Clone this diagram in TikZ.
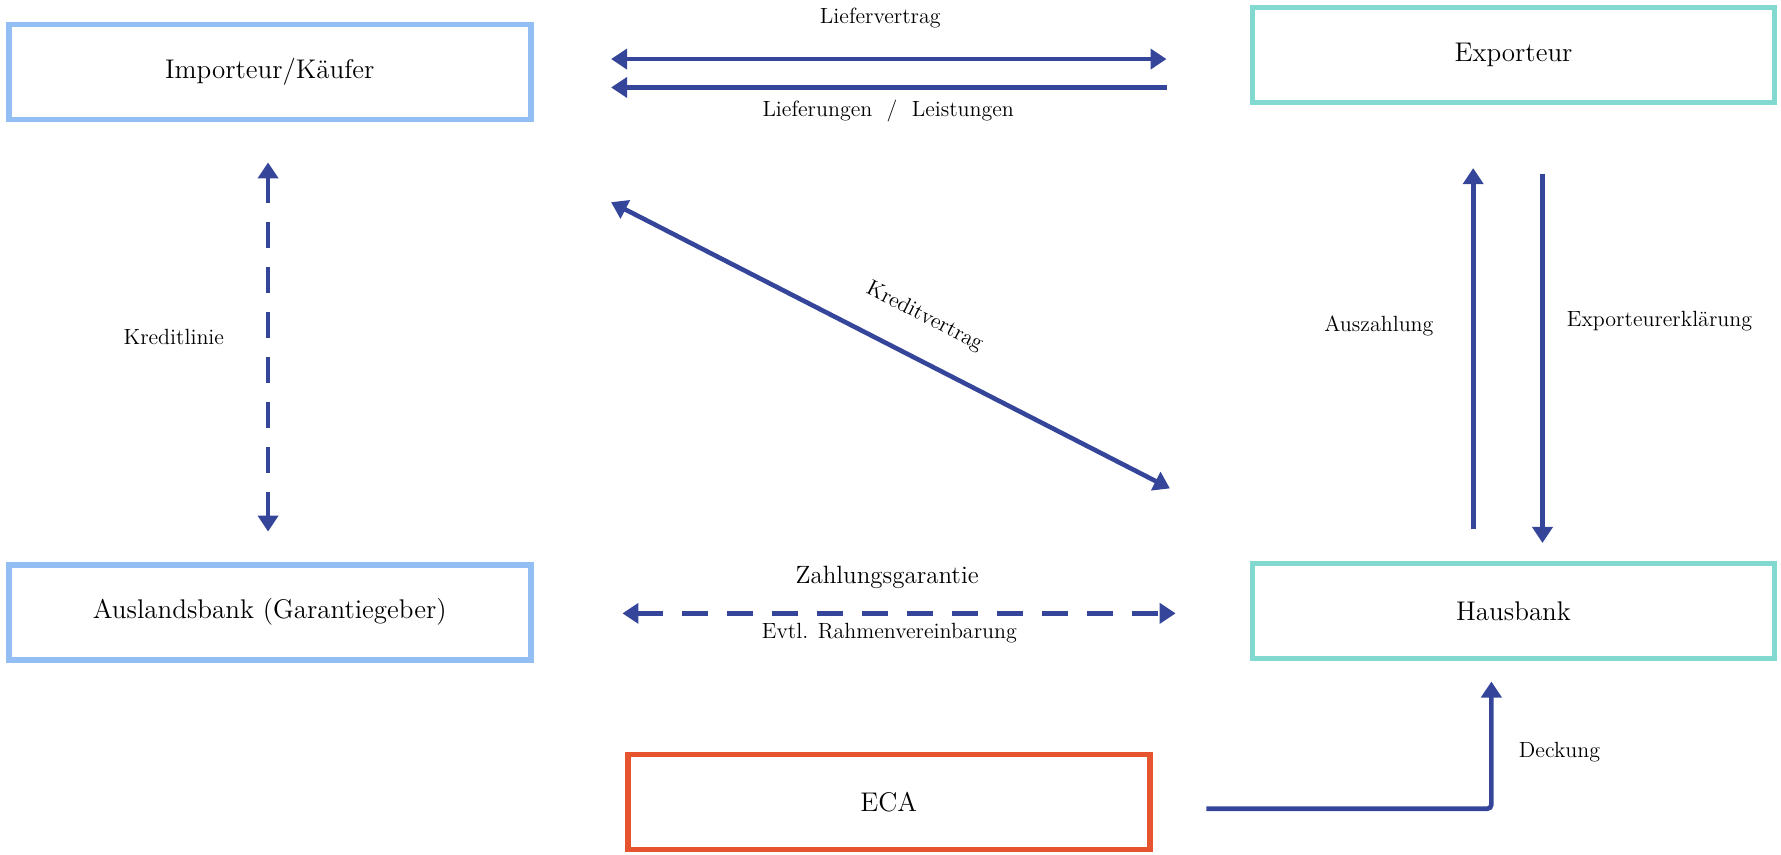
\documentclass[tikz,border=0pt]{standalone}
\usepackage{tikz}
\usetikzlibrary{arrows.meta}

\definecolor{impblue}{RGB}{147,190,243}
\definecolor{expteal}{RGB}{129,217,207}
\definecolor{ecared}{RGB}{229,83,47}
\definecolor{flowblue}{RGB}{53,70,154}

\begin{document}
\begin{tikzpicture}[x=0.5679pt,y=-0.5679pt,>={Triangle[length=8pt,width=10pt]},
        entity/.style={draw,line width=2.84pt,minimum width=261pt,minimum height=47.5pt,
            inner sep=0pt,font=\fontsize{13.5}{16}\selectfont},
        flow/.style={draw=flowblue,line width=2.3pt},
        dashflow/.style={flow,dash pattern=on 13pt off 9.5pt},
        lbl/.style={font=\fontsize{11}{13}\selectfont}]
        \useasboundingbox (0,0) rectangle (1568,752);

        % Parties.
        \node[entity,draw=impblue] (imp) at (237.5,63.5) {Importeur/Käufer};
        \node[entity,draw=expteal] (exp) at (1332.5,48.5) {Exporteur};
        \node[entity,draw=impblue] (aus) at (237.5,539) {Auslandsbank (Garantiegeber)};
        \node[entity,draw=expteal] (haus) at (1332.5,538) {Hausbank};
        \node[entity,draw=ecared] (eca) at (782.5,706) {ECA};

        % Arrow ends.
        \coordinate (lv-l) at (538,52);
        \coordinate (lv-r) at (1027,52);
        \coordinate (ll-l) at (538,77);
        \coordinate (ll-r) at (1027,77);
        \coordinate (kl-t) at (236,143);
        \coordinate (kl-b) at (236,468);
        \coordinate (kv-l) at (538,178);
        \coordinate (kv-r) at (1030,430);
        \coordinate (az-b) at (1297,466);
        \coordinate (az-t) at (1297,148);
        \coordinate (ee-t) at (1358,153);
        \coordinate (ee-b) at (1358,478);
        \coordinate (zg-l) at (548,540);
        \coordinate (zg-r) at (1035,540);
        \coordinate (dk-a) at (1062,712);
        \coordinate (dk-b) at (1313,600);

        % Connections.
        \draw[flow,<->] (lv-l) -- (lv-r);
        \draw[flow,->] (ll-r) -- (ll-l);
        \draw[dashflow,<->] (kl-t) -- (kl-b);
        \draw[flow,<->] (kv-l) -- (kv-r);
        \draw[flow,->] (az-b) -- (az-t);
        \draw[flow,->] (ee-t) -- (ee-b);
        \draw[dashflow,<->] (zg-l) -- (zg-r);
        \draw[flow,->,rounded corners=2] (dk-a) -| (dk-b);

        % Labels.
        \node[lbl] (lbl-lv) at (775,16) {Liefervertrag};
        \node[lbl] (lbl-ll) at (782,98) {Lieferungen \ / \ Leistungen};
        \node[lbl] (lbl-kl) at (153,297) {Kreditlinie};
        \node[lbl,rotate=-27] (lbl-kv) at (814,279) {Kreditvertrag};
        \node[lbl] (lbl-az) at (1214,287) {Auszahlung};
        \node[lbl] (lbl-ee) at (1461,283) {Exporteurerklärung};
        \node[lbl,font=\fontsize{12.5}{15}\selectfont] (lbl-zg) at (781,508) {Zahlungsgarantie};
        \node[lbl] (lbl-er) at (783,557) {Evtl. Rahmenvereinbarung};
        \node[lbl] (lbl-dk) at (1373,662) {Deckung};
    \end{tikzpicture}
\end{document}
